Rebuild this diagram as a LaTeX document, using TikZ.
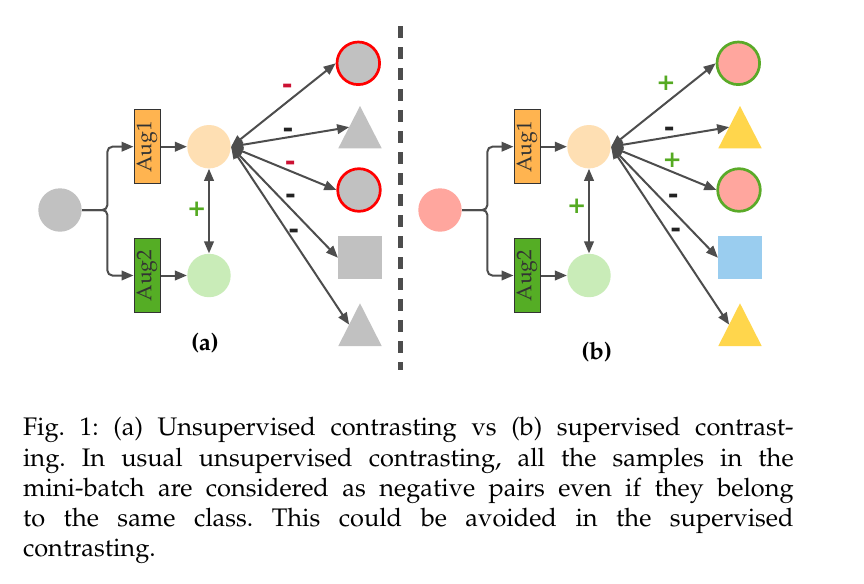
\documentclass[tikz,border=0pt]{standalone}
\usepackage[no-math]{fontspec}
\newfontfamily\symfont{DejaVu Sans Bold}
\usepackage[T1]{fontenc}
\usepackage{mathpazo}
\usetikzlibrary{arrows.meta}
\definecolor{cgray}{HTML}{C1C1C1}
\definecolor{cpink}{HTML}{FFA69E}
\definecolor{cyellow}{HTML}{FFD64C}
\definecolor{cblue}{HTML}{9ACDEF}
\definecolor{cpeach}{HTML}{FEDFB3}
\definecolor{clgreen}{HTML}{C9ECB8}
\definecolor{corange}{HTML}{FFB450}
\definecolor{cdgreen}{HTML}{55AD25}
\definecolor{cring}{HTML}{5AAA28}
\definecolor{cplus}{HTML}{55AA22}
\definecolor{cminusred}{HTML}{CC1133}
\definecolor{cminus}{HTML}{222222}
\definecolor{carrow}{HTML}{4D4D4D}
\definecolor{cboxline}{HTML}{333333}
\begin{document}
\frenchspacing
\begin{tikzpicture}[x=0.5pt,y=-0.5pt,
  dot/.style={circle,inner sep=0pt,minimum size=21.7pt},
  ringdot/.style={circle,inner sep=0pt,minimum size=21.3pt,line width=1.35pt},
  sqnode/.style={rectangle,inner sep=0pt,minimum size=21.7pt},
  augbox/.style={rectangle,draw=cboxline,line width=0.5pt,inner sep=0pt,minimum width=13pt,minimum height=37pt,font=\fontsize{10.6}{11}\selectfont,text=cboxline},
  arr/.style={draw=carrow,line width=1pt,-{Triangle[length=6pt,width=4.8pt]}},
  dbl/.style={draw=carrow,line width=1pt,{Triangle[length=6pt,width=4.8pt]}-{Triangle[length=6pt,width=4.8pt]}},
  minuslbl/.style={inner sep=0pt,font=\symfont\fontsize{13}{13}\selectfont,text=cminus},
  pluslbl/.style={inner sep=0pt,font=\symfont\fontsize{11.5}{12}\selectfont,text=cplus},
  sublbl/.style={inner sep=0pt,font=\fontsize{12}{13}\bfseries\selectfont},
  capline/.style={anchor=base west,inner sep=0pt,font=\fontsize{12.7}{15}\selectfont},
  divider/.style={draw=carrow,line width=2.35pt,dash pattern=on 6pt off 4.5pt}
]
\useasboundingbox[fill=white] (0,0) rectangle (864,584);

% ---------------- panel (a) ----------------
\node[dot,fill=cgray] (srcA) at (60,210) {};
\node[augbox,fill=corange] (a1A) at (147,146.7) {\rotatebox{90}{Aug1}};
\node[augbox,fill=cdgreen] (a2A) at (147,275.5) {\rotatebox{90}{Aug2}};
\node[dot,fill=cpeach] (c1A) at (209,146.7) {};
\node[dot,fill=clgreen] (c2A) at (209,275.5) {};
\node[ringdot,fill=cgray,draw=red] (t1A) at (358.3,63.3) {};
\fill[cgray] (338.3,148.3) -- (360,106) -- (381.7,148.3) -- cycle;
\coordinate (t2A) at (349.15,127.15);
\node[ringdot,fill=cgray,draw=red] (t3A) at (359,190) {};
\node[sqnode,fill=cgray] (t4A) at (360,257.7) {};
\fill[cgray] (338.3,346) -- (360,303.3) -- (381.7,346) -- cycle;
\coordinate (t5A) at (349.15,324.65);

\draw[arr,rounded corners=2.5pt] (srcA.east) -- ++(25.3,0) |- (a1A.west);
\draw[arr,rounded corners=2.5pt] (srcA.east) -- ++(25.3,0) |- (a2A.west);
\draw[arr] (a1A.east) -- (c1A.west);
\draw[arr] (a2A.east) -- (c2A.west);
\draw[dbl] (c1A.south) -- (c2A.north);
\draw[dbl] (c1A.east) -- (t1A.west);
\draw[dbl] (c1A.east) -- (t2A);
\draw[dbl] (c1A.east) -- (t3A.west);
\draw[dbl] (c1A.east) -- (t4A.west);
\draw[dbl] (c1A.east) -- (t5A);

\node[pluslbl] (pA) at (196.7,209) {+};
\node[minuslbl,text=cminusred] (m1A) at (287.2,89) {-};
\node[minuslbl] (m2A) at (288,132.7) {-};
\node[minuslbl,text=cminusred] (m3A) at (290.3,166) {-};
\node[minuslbl] (m4A) at (290.5,199) {-};
\node[minuslbl] (m5A) at (293.7,233.4) {-};
\node[sublbl] (labA) at (205,343.5) {(a)};

% divider
\coordinate (dtop) at (400.3,26);
\coordinate (dbot) at (400.3,370);
\draw[divider] (dtop) -- (dbot);

% ---------------- panel (b) ----------------
\node[dot,fill=cpink] (srcB) at (440,210) {};
\node[augbox,fill=corange] (a1B) at (527,146.7) {\rotatebox{90}{Aug1}};
\node[augbox,fill=cdgreen] (a2B) at (527,275.5) {\rotatebox{90}{Aug2}};
\node[dot,fill=cpeach] (c1B) at (589,146.7) {};
\node[dot,fill=clgreen] (c2B) at (589,275.5) {};
\node[ringdot,fill=cpink,draw=cring] (t1B) at (738.3,63.3) {};
\fill[cyellow] (718.3,148.3) -- (740,106) -- (761.7,148.3) -- cycle;
\coordinate (t2B) at (729.15,127.15);
\node[ringdot,fill=cpink,draw=cring] (t3B) at (739,190) {};
\node[sqnode,fill=cblue] (t4B) at (740,257.7) {};
\fill[cyellow] (718.3,346) -- (740,303.3) -- (761.7,346) -- cycle;
\coordinate (t5B) at (729.15,324.65);

\draw[arr,rounded corners=2.5pt] (srcB.east) -- ++(25.3,0) |- (a1B.west);
\draw[arr,rounded corners=2.5pt] (srcB.east) -- ++(25.3,0) |- (a2B.west);
\draw[arr] (a1B.east) -- (c1B.west);
\draw[arr] (a2B.east) -- (c2B.west);
\draw[dbl] (c1B.south) -- (c2B.north);
\draw[dbl] (c1B.east) -- (t1B.west);
\draw[dbl] (c1B.east) -- (t2B);
\draw[dbl] (c1B.east) -- (t3B.west);
\draw[dbl] (c1B.east) -- (t4B.west);
\draw[dbl] (c1B.east) -- (t5B);

\node[pluslbl] (pB) at (576.7,206.7) {+};
\node[pluslbl] (m1B) at (666,83.3) {+};
\node[minuslbl] (m2B) at (669.3,132) {-};
\node[pluslbl] (m3B) at (672.3,160.7) {+};
\node[minuslbl] (m4B) at (673.3,198.4) {-};
\node[minuslbl] (m5B) at (675.7,232.7) {-};
\node[sublbl] (labB) at (596.7,351.7) {(b)};

% ---------------- caption ----------------
\node[capline] (cap1) at (22.7,435.7) {\makebox[385.3pt][s]{Fig. 1: (a) Unsupervised contrasting vs (b) supervised contrast-}};
\node[capline] (cap2) at (22.7,466) {\makebox[385.3pt][s]{ing. In usual unsupervised contrasting, all the samples in the}};
\node[capline] (cap3) at (22.7,496.7) {\makebox[385.3pt][s]{mini-batch are considered as negative pairs even if they belong}};
\node[capline] (cap4) at (22.7,526.7) {\makebox[385.3pt][s]{to the same class. This could be avoided in the supervised}};
\node[capline] (cap5) at (22.7,556.7) {contrasting.};
\end{tikzpicture}
\end{document}
